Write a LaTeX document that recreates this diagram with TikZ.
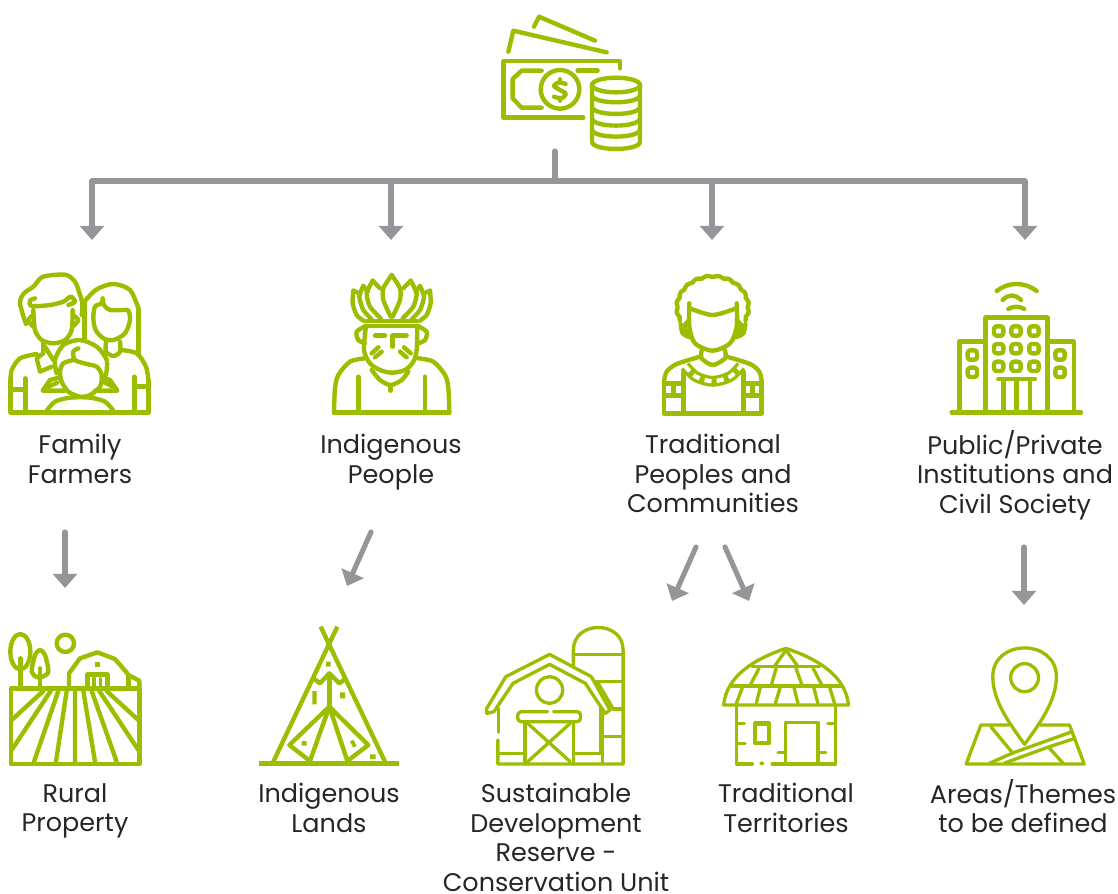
\documentclass[tikz,border=0pt]{standalone}
\usepackage{fontspec}
\setmainfont{Poppins}
\usetikzlibrary{arrows.meta}
\definecolor{leaf}{RGB}{155,191,0}
\definecolor{steel}{RGB}{149,150,154}
\tikzset{
  icon/.style={draw=leaf,line width=2.5pt,line join=round,line cap=round},
  iconthin/.style={draw=leaf,line width=1.9pt,line join=round,line cap=round},
  patch/.style={fill=leaf,draw=none},
  feed/.style={draw=steel,line width=2.9pt,line cap=round},
  flow/.style={feed,-{Triangle[width=13.5pt,length=8pt]}},
  lbl/.style={text=black!85,align=center,anchor=north,font=\fontsize{14.5}{16.8}\selectfont,inner sep=0pt},
  crop/.style={shift={#1},scale=0.33333},
  wide/.style={shift={(478,615)},xscale=0.3975,yscale=0.33333}
}
\begin{document}
\begin{tikzpicture}[x=0.02cm,y=-0.02cm]
    \useasboundingbox (0,0) rectangle (1118,893);
    % Points of the connectors
    \coordinate (T0) at (555,151);
    \coordinate (T1) at (555,181);
    \coordinate (Bl) at (92,181);
    \coordinate (Br) at (1025,181);
    \coordinate (B2) at (391,181);
    \coordinate (B3) at (712,181);
    \coordinate (A1) at (92,240);
    \coordinate (A2) at (391,240);
    \coordinate (A3) at (712,240);
    \coordinate (A4) at (1025,240);
    \coordinate (F0) at (65,532);
    \coordinate (F1) at (65,588);
    \coordinate (I0) at (371,532);
    \coordinate (I1) at (347,586);
    \coordinate (P0) at (696,547);
    \coordinate (P1) at (672,601);
    \coordinate (Q0) at (725,547);
    \coordinate (Q1) at (749,601);
    \coordinate (S0) at (1024,547);
    \coordinate (S1) at (1024,605);

    % Connectors
    \draw[feed] (T0) -- (T1);
    \draw[feed] (Bl) -- (Br);
    \draw[flow] (Bl) -- (A1);
    \draw[flow] (B2) -- (A2);
    \draw[flow] (B3) -- (A3);
    \draw[flow] (Br) -- (A4);
    \draw[flow] (F0) -- (F1);
    \draw[flow] (I0) -- (I1);
    \draw[flow] (P0) -- (P1);
    \draw[flow] (Q0) -- (Q1);
    \draw[flow] (S0) -- (S1);

    % Labels
    \node[lbl] (family) at (80,434) {Family\\Farmers};
    \node[lbl] (indigenous) at (391,434) {Indigenous\\People};
    \node[lbl] (traditional) at (713,434) {Traditional\\Peoples and\\Communities};
    \node[lbl] (public) at (1015,430) {Public/Private\\Institutions and\\Civil Society};
    \node[lbl] (rural) at (75,783) {Rural\\Property};
    \node[lbl] (lands) at (329,783) {Indigenous\\Lands};
    \node[lbl] (reserve) at (556,783) {Sustainable\\Development\\Reserve -\\Conservation Unit};
    \node[lbl] (territories) at (786,783) {Traditional\\Territories};
    \node[lbl] (areas) at (1023,779) {Areas/Themes\\to be defined};

    % Money
    \begin{scope}[crop={(480,0)}]
      \draw[icon] (85,155) -- (100,92) -- (380,157);
      \draw[icon] (162,80) -- (177,50) -- (345,122);
      \draw[icon] (420,205) -- (420,183) -- (70,183) -- (70,353) -- (310,353);
      \draw[icon] (185,212) -- (125,212) -- (98,237) -- (98,295) -- (125,323) -- (185,323);
      \draw[icon] (293,212) -- (353,212);
      \draw[icon] (240,268) circle (58);
      \draw[icon] plot[smooth] coordinates {(257,252) (237,247) (222,258) (240,270) (257,281) (245,295) (222,290)};
      \draw[icon] (240,238) -- (240,246) (240,295) -- (240,302);
      \draw[icon] (408,255) ellipse (72 and 22);
      \draw[icon] (336,255) -- (336,425) .. controls (336,454) and (480,454) .. (480,425) -- (480,255);
      \foreach \y in {290,325,360,393}
        \draw[icon] (336,\y-5) .. controls (336,\y+24) and (480,\y+24) .. (480,\y-5);
    \end{scope}

    % Family
    \begin{scope}[crop={(0,260)}]
      \draw[icon] plot[smooth] coordinates {(78,192) (60,130) (72,100) (100,80) (125,52) (160,45) (200,45) (225,65) (237,95) (247,130) (245,165)};
      \draw[icon] plot[smooth] coordinates {(105,115) (90,122) (95,138) (150,135) (190,125) (212,110) (225,125) (205,135)};
      \draw[icon] plot[smooth] coordinates {(100,150) (105,210) (125,240) (160,250) (195,240) (215,210) (218,150)};
      \draw[icon] plot[smooth] coordinates {(100,165) (85,180) (100,200)};
      \draw[icon] plot[smooth] coordinates {(218,165) (235,180) (218,200)};
      \draw[icon] (130,245) -- (130,280) -- (110,295) -- (120,335) -- (155,320);
      \draw[icon] (135,260) -- (160,300);
      \draw[icon] (253,235) -- (253,125);
      \draw[icon] plot[smooth] coordinates {(253,125) (290,88) (340,72) (390,90) (415,145)};
      \draw[icon] (415,145) -- (415,285);
      \draw[icon] plot[smooth] coordinates {(308,115) (305,130) (285,140) (280,175) (287,210) (310,235) (340,240) (375,220) (390,180) (385,152) (370,150) (330,150) (312,135) (308,115)};
      \draw[icon] plot[smooth] coordinates {(318,245) (318,275) (340,288) (360,275) (360,245)};
      \draw[icon] plot[smooth] coordinates {(365,270) (410,280) (438,320) (445,360)};
      \draw[icon] plot[smooth] coordinates {(110,282) (60,295) (35,330) (32,360)};
      \draw[icon] (32,360) -- (32,458) -- (445,458) -- (445,360);
      \draw[icon] (77,355) -- (77,458) (403,350) -- (403,458);
      \draw[icon] (32,388) -- (77,388) (403,380) -- (445,380);
      \draw[icon] plot[smooth] coordinates {(170,340) (165,300) (190,255) (240,240) (290,260) (320,300) (318,345)};
      \draw[icon] plot[smooth] coordinates {(235,265) (220,275) (225,300) (260,312) (290,320) (305,345) (300,380) (270,405) (240,410) (205,395) (185,365) (180,335) (190,310) (220,300)};
      \draw[icon] (180,352) -- (150,360) -- (128,392) -- (195,392);
      \draw[icon] (305,352) -- (330,360) -- (352,392) -- (285,392);
      \draw[icon] (145,380) -- (172,368) (338,380) -- (315,368);
      \draw[icon] plot[smooth] coordinates {(140,452) (165,425) (210,413) (270,413) (315,425) (340,452)};
    \end{scope}

    % Indigenous man
    \begin{scope}[crop={(0,260)}]
      \foreach \s in {1,-1} {
        \begin{scope}[shift={(1175,0)},xscale=\s]
          \draw[icon] plot[smooth,tension=0.4] coordinates {(0,45) (25,85) (25,120) (3,170)};
          \draw[icon] plot[smooth,tension=0.4] coordinates {(57,62) (75,100) (65,140) (33,175)};
          \draw[icon] (57,62) -- (35,85);
          \draw[icon] plot[smooth,tension=0.4] coordinates {(85,78) (97,110) (85,150) (60,178)};
          \draw[icon] (85,78) -- (72,95);
          \draw[icon] plot[smooth,tension=0.4] coordinates {(115,92) (117,130) (105,165) (85,182)};
          \draw[icon] (115,92) -- (97,100);
          \draw[icon] plot[smooth] coordinates {(78,198) (105,215) (100,240) (80,250)};
          \draw[icon] plot[smooth] coordinates {(80,295) (125,305) (160,345) (170,385) (173,458)};
          \draw[icon] (100,350) -- (100,458);
        \end{scope}
      }
      \draw[icon] (1095,183) -- (1252,183) (1095,198) -- (1252,198);
      \draw[icon] plot[smooth] coordinates {(1098,198) (1092,270) (1110,310) (1140,330) (1175,338) (1215,330) (1240,305) (1250,270) (1252,198)};
      \draw[icon] (1125,227) -- (1155,227) (1220,227) -- (1178,227) -- (1178,260);
      \draw[icon] (1115,280) -- (1135,262) (1125,292) -- (1145,275) (1212,262) -- (1232,280) (1200,275) -- (1220,292);
      \draw[icon] (1002,458) -- (1348,458);
      \draw[icon] plot[smooth] coordinates {(1115,330) (1140,360) (1172,375) (1205,360) (1225,335)};
      \draw[icon] (1172,375) -- (1172,392);
    \end{scope}

    % Traditional person
    \begin{scope}[crop={(640,260)}]
      \draw[icon] plot[smooth,domain=-205:25,samples=70] ({218+(104+5*abs(sin(10*\x)))*cos(\x)},{142+(90+5*abs(sin(10*\x)))*sin(\x)});
      \draw[icon] plot[smooth] coordinates {(122,192) (128,220) (150,232)};
      \draw[icon] plot[smooth] coordinates {(316,192) (310,220) (288,232)};
      \draw[icon] plot[smooth] coordinates {(148,130) (148,200) (165,250) (218,272) (270,250) (290,200) (290,130)};
      \draw[icon] plot[smooth] coordinates {(150,145) (218,165) (288,145)};
      \draw[icon] plot[smooth] coordinates {(148,180) (133,200) (148,225)};
      \draw[icon] plot[smooth] coordinates {(290,180) (305,200) (290,225)};
      \draw[icon] plot[smooth] coordinates {(185,272) (185,295) (218,315) (255,295) (255,272)};
      \draw[icon] plot[smooth] coordinates {(180,290) (110,312) (80,335) (72,365)};
      \draw[icon] plot[smooth] coordinates {(260,290) (330,312) (358,335) (365,365)};
      \draw[icon] (72,365) -- (72,460) -- (365,460) -- (365,365);
      \draw[icon] (130,335) -- (130,460) (310,335) -- (310,460);
      \draw[draw=leaf,line width=6.2pt] plot[smooth] coordinates {(135,318) (168,350) (218,364) (270,350) (303,318)};
      \draw[draw=white,line width=2.4pt,dash pattern=on 4pt off 3pt] plot[smooth] coordinates {(135,318) (168,350) (218,364) (270,350) (303,318)};
      \draw[icon] (72,370) -- (130,370) (72,407) -- (130,407) (100,370) -- (100,407);
      \draw[icon] (310,370) -- (365,370) (310,407) -- (365,407) (338,370) -- (338,407);
    \end{scope}

    % Building
    \begin{scope}[crop={(640,260)}]
      \draw[icon] (935,457) -- (1323,457);
      \draw[icon] (1037,457) -- (1037,173) -- (1222,173) -- (1222,457);
      \draw[icon] (958,457) -- (958,245) -- (1037,245) (1222,245) -- (1302,245) -- (1302,457);
      \foreach \cx in {1076,1128,1182}
        \foreach \cy in {213,266,319}
          \draw[icon,rounded corners=1.5pt] (\cx-14,\cy-14) rectangle (\cx+14,\cy+14);
      \foreach \cx in {997,1260}
        \foreach \cy in {285,337}
          \draw[icon,rounded corners=1.5pt] (\cx-14,\cy-14) rectangle (\cx+14,\cy+14);
      \draw[icon] (1075,357) -- (1185,357);
      \draw[icon] (1090,357) -- (1090,457) (1130,357) -- (1130,457) (1170,357) -- (1170,457);
      \draw[icon] (1070,93) .. controls (1105,65) and (1155,65) .. (1190,93);
      \draw[icon] (1088,120) .. controls (1105,102) and (1125,102) .. (1143,120);
      \draw[icon] (1105,147) .. controls (1120,138) and (1138,138) .. (1153,147);
    \end{scope}

    % Rural property
    \begin{scope}[crop={(0,615)}]
      \draw[icon] (33,220) rectangle (418,447);
      \draw[icon] (418,220) -- (418,197) -- (385,180);
      \draw[icon] (385,180) -- (385,215);
      \draw[icon] (130,228) -- (35,315) (152,228) -- (35,405) (175,228) -- (102,440) (200,228) -- (168,440) (225,228) -- (225,440) (250,228) -- (285,440) (275,228) -- (350,440) (298,228) -- (415,405) (320,228) -- (415,315);
      \draw[icon] (61,110) ellipse (30 and 53);
      \draw[icon] (61,130) -- (61,220);
      \draw[icon] plot[smooth cycle] coordinates {(120,105) (135,120) (145,170) (125,186) (110,186) (95,170) (105,120)};
      \draw[icon] (120,160) -- (120,220);
      \draw[icon] (196,85) circle (26);
      \draw[icon] (207,215) -- (207,175) -- (240,130) -- (292,112) -- (345,132) -- (382,175);
      \draw[icon] (262,220) -- (262,178) -- (322,178) -- (322,220);
      \draw[iconthin] (282,190) -- (282,220) (302,190) -- (302,220);
      \fill[patch] (285,140) rectangle (300,155);
    \end{scope}

    % Tipi
    \begin{scope}[crop={(0,615)}]
      \draw[icon,line cap=butt] (1012,35) -- (820,440) (962,35) -- (1155,440);
      \draw[icon,line cap=butt] (778,445) -- (1198,445);
      \draw[icon,line cap=butt] (940,190) -- (960,205) -- (988,175) -- (1018,205) -- (1038,190);
      \draw[icon,line cap=butt] (988,175) -- (988,275);
      \draw[icon,line cap=butt] (988,275) -- (868,390) -- (930,438) -- (988,275) -- (1042,438) -- (1105,390) -- cycle;
      \fill[patch] (978,140) rectangle (992,155) (937,228) rectangle (950,268) (1020,232) rectangle (1035,250) (905,378) rectangle (920,392) (1110,418) rectangle (1127,432);
      \fill[patch] (1050,380) -- (1060,374) -- (1070,392) -- (1060,398) -- cycle;
    \end{scope}

    % Barn
    \begin{scope}[wide]
      \draw[iconthin] (240,150) -- (240,105) .. controls (240,15) and (365,15) .. (365,105) -- (365,447) -- (50,447) -- (50,375);
      \draw[iconthin] (52,280) -- (52,352);
      \draw[iconthin] (240,118) -- (365,118) (295,200) -- (365,200) (340,282) -- (365,282) (315,365) -- (365,365);
      \draw[iconthin] (300,200) -- (340,282);
      \draw[iconthin] (313,295) -- (313,447);
      \draw[iconthin] (22,280) -- (70,185) -- (180,118) -- (285,185) -- (332,285) -- (320,295) -- (270,205) -- (180,148) -- (88,205) -- (40,290) -- (22,295) -- cycle;
      \draw[iconthin] (308,275) -- (308,415) (240,415) -- (308,415) (52,415) -- (118,415);
      \draw[iconthin] (180,225) ellipse (33 and 40);
      \draw[iconthin,rounded corners=2pt] (175,290) -- (100,290) -- (100,320) -- (258,320) -- (258,290) -- (190,290);
      \draw[iconthin] (118,320) -- (118,447) (240,320) -- (240,447);
      \draw[iconthin] (125,325) -- (232,440) (232,325) -- (125,440);
    \end{scope}

    % Hut
    \begin{scope}[wide]
      \draw[iconthin] (618,270) .. controls (625,180) and (700,130) .. (775,100) .. controls (850,130) and (925,180) .. (932,270) -- cycle;
      \draw[iconthin] (690,155) -- (860,155) (635,213) -- (915,213);
      \draw[iconthin] (775,105) -- (745,155) (775,105) -- (805,155);
      \draw[iconthin] (707,160) -- (685,210) (750,160) -- (738,210) (800,160) -- (815,210) (843,160) -- (865,210);
      \draw[iconthin] (665,218) -- (650,265) (710,218) -- (700,265) (760,218) -- (748,265) (795,218) -- (805,265) (845,218) -- (855,265) (885,218) -- (897,265);
      \draw[iconthin] (650,275) -- (650,447) -- (690,447) (740,447) -- (900,447) -- (900,275);
      \fill[patch] (714,445) circle (6);
      \draw[icon] (697,326) rectangle (732,384);
      \draw[iconthin] (773,447) -- (773,322) -- (855,322) -- (855,447);
      \draw[iconthin] (655,325) -- (670,325) (655,385) -- (672,385) (755,413) -- (773,413) (855,413) -- (875,413) (880,325) -- (900,325);
    \end{scope}

    % Map pin
    \begin{scope}[wide]
      \draw[iconthin] (1375,388) .. controls (1340,330) and (1295,260) .. (1295,185) .. controls (1295,70) and (1455,70) .. (1455,185) .. controls (1455,260) and (1410,330) .. (1375,388) -- cycle;
      \draw[iconthin] (1375,188) ellipse (35 and 42);
      \draw[iconthin] (1335,330) -- (1265,330) -- (1228,447) -- (1525,447) -- (1488,330) -- (1415,330);
      \draw[iconthin] (1288,444) -- (1345,414) -- (1490,352);
      \draw[iconthin] (1325,444) -- (1435,396) -- (1497,372);
      \draw[iconthin] (1290,335) -- (1345,414) (1435,396) -- (1472,445);
    \end{scope}
\end{tikzpicture}
\end{document}
